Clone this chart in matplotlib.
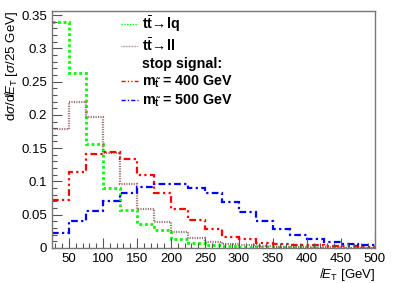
import matplotlib
matplotlib.use("Agg")
import matplotlib.pyplot as plt
import numpy as np
from matplotlib.ticker import MultipleLocator
from matplotlib.lines import Line2D
from matplotlib.patches import Rectangle

plt.rcParams['font.family'] = ['Liberation Sans', 'DejaVu Sans']
plt.rcParams['mathtext.fontset'] = 'custom'
plt.rcParams['mathtext.rm'] = 'Liberation Sans'
plt.rcParams['mathtext.bf'] = 'Liberation Sans:bold'
plt.rcParams['mathtext.it'] = 'Liberation Sans:italic'

bin_edges = list(range(25, 501, 25))

ttlq = [0.339, 0.263, 0.156, 0.090, 0.057, 0.036, 0.027, 0.0135, 0.008, 0.005,
        0.003, 0.002, 0.0015, 0.001, 0.001, 0.0007, 0.0005, 0.0004, 0.0003]
ttll = [0.179, 0.219, 0.197, 0.143, 0.096, 0.058, 0.039, 0.024, 0.015, 0.009,
        0.006, 0.004, 0.003, 0.002, 0.0015, 0.001, 0.001, 0.0007, 0.0005]
stop400 = [0.072, 0.114, 0.141, 0.144, 0.134, 0.110, 0.083, 0.058, 0.042, 0.029,
           0.017, 0.013, 0.0075, 0.006, 0.005, 0.004, 0.003, 0.0025, 0.002]
stop500 = [0.023, 0.040, 0.056, 0.071, 0.083, 0.092, 0.096, 0.096, 0.090, 0.082,
           0.069, 0.054, 0.040, 0.029, 0.020, 0.0135, 0.009, 0.006, 0.004]

labels = [r'$\mathbf{t}\bar{\mathbf{t}}\!\rightarrow\!\mathbf{lq}$',
          r'$\mathbf{t}\bar{\mathbf{t}}\!\rightarrow\!\mathbf{ll}$',
          'stop signal:',
          r'$\mathbf{m_{\tilde{t}}}$ = 400 GeV',
          r'$\mathbf{m_{\tilde{t}}}$ = 500 GeV']

GREEN, BROWN, RED, BLUE = '#00ff00', '#9c6b6b', '#ff0000', '#0000ff'
LS_G = (0, (1, 1))
LS_B = (0, (0.5, 0.6))
LS_R = (0, (3, 1.5, 1, 1.5, 1, 1.5))
LS_U = (0, (3, 1.5, 1, 1.5))

fig = plt.figure(figsize=(3.95, 2.83), dpi=100)
ax = fig.add_axes([0.1316, 0.1237, 0.8174, 0.8373])

ax.stairs(ttlq, bin_edges, color=GREEN, lw=2.0, linestyle=LS_G, baseline=None)
ax.stairs(ttll, bin_edges, color=BROWN, lw=1.6, linestyle=LS_B, baseline=None)
ax.stairs(stop400, bin_edges, color=RED, lw=1.6, linestyle=LS_R, baseline=None)
ax.stairs(stop500, bin_edges, color=BLUE, lw=1.6, linestyle=LS_U, baseline=None)

ax.set_xlim(25, 500)
ax.set_ylim(0, 0.356)

ax.xaxis.set_major_locator(MultipleLocator(50))
ax.xaxis.set_minor_locator(MultipleLocator(10))
ax.yaxis.set_minor_locator(MultipleLocator(0.01))
ax.tick_params(which='both', direction='in', top=False, right=False, labelsize=9.5, color='#555555')
ax.tick_params(which='major', length=7, width=0.8)
ax.tick_params(which='minor', length=3.5, width=0.8)
ax.set_yticks([0, 0.05, 0.1, 0.15, 0.2, 0.25, 0.3, 0.35])
ax.set_yticklabels(['0', '0.05', '0.1', '0.15', '0.2', '0.25', '0.3', '0.35'])
for s in ax.spines.values():
    s.set_color('#777777')
    s.set_linewidth(1.0)

ax.set_xlabel(r'$\not{E}_{\mathrm{T}}$ [GeV]', fontsize=9.5, loc='right', labelpad=1)
ax.set_ylabel(r'd$\sigma$/d$\not{E}_{\mathrm{T}}$ [$\sigma$/25 GeV]', fontsize=9.5, loc='top', labelpad=1)

handles = [Line2D([], [], color=GREEN, lw=1.0, linestyle=LS_G),
           Line2D([], [], color=BROWN, lw=1.0, linestyle=LS_B),
           Rectangle((0, 0), 1, 1, visible=False),
           Line2D([], [], color=RED, lw=1.0, linestyle=LS_R),
           Line2D([], [], color=BLUE, lw=1.0, linestyle=LS_U)]
ax.legend(handles, labels, loc='upper left', bbox_to_anchor=(0.2136, 0.985),
          frameon=False, prop={'weight': 'bold', 'size': 10.3},
          borderpad=0, borderaxespad=0,
          handlelength=1.2, handletextpad=0.3, labelspacing=0.2)

fig.savefig('out.png', dpi=100)
